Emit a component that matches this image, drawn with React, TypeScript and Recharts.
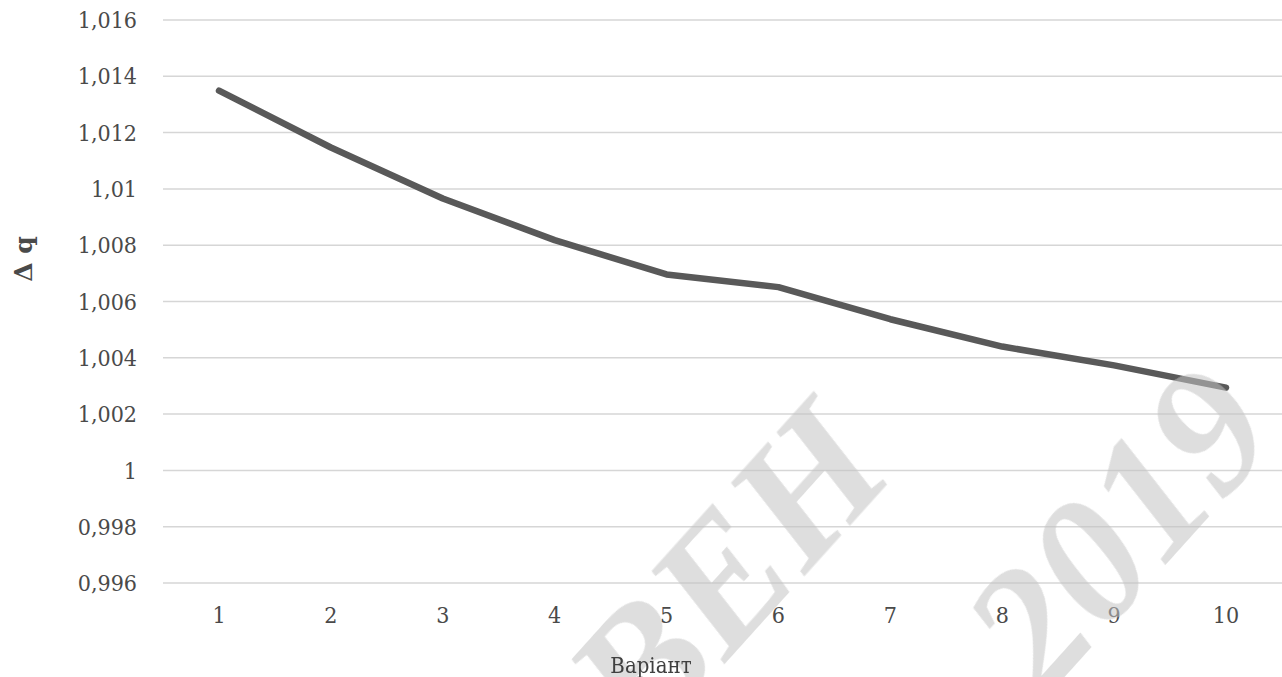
import React from 'react';
import { LineChart, Line, XAxis, YAxis, CartesianGrid } from 'recharts';

const categories: string[] = ['1', '2', '3', '4', '5', '6', '7', '8', '9', '10'];
const deltaQ: number[] = [1.01349, 1.01147, 1.00966, 1.00818, 1.00696, 1.00651, 1.00537, 1.0044, 1.00373, 1.00294];
const yTicks: number[] = [0.996, 0.998, 1.0, 1.002, 1.004, 1.006, 1.008, 1.01, 1.012, 1.014, 1.016];
const xTitle = 'Варіант';
const yTitle = 'Δ q';

const data = categories.map((c, i) => ({ name: c, value: deltaQ[i] }));

const fmt = (v: number) => {
  const s = parseFloat(v.toFixed(3)).toString();
  return s.replace('.', ',');
};

const TICK_FONT = '"DejaVu Serif Condensed", "DejaVu Serif", serif';

export default function App() {
  return (
    <div style={{ position: 'absolute', left: 0, top: 0, width: 1282, height: 677, background: '#fff' }}>
      <LineChart width={1282} height={677} data={data} margin={{ top: 20, right: 0, left: 0, bottom: 0 }}>
        <CartesianGrid vertical={false} stroke="#d6d6d6" strokeWidth={1.5} />
        <XAxis
          dataKey="name"
          height={94}
          axisLine={false}
          tickLine={false}
          tickSize={0}
          tickMargin={24}
          padding={{ left: 56, right: 56 }}
          tick={{ fill: '#4a4a4a', fontSize: 23, fontFamily: TICK_FONT }}
          interval={0}
        />
        <YAxis
          width={163}
          domain={[0.996, 1.016]}
          ticks={yTicks}
          allowDataOverflow
          axisLine={false}
          tickLine={false}
          tickSize={0}
          tickMargin={26}
          tickFormatter={fmt}
          tick={{ fill: '#4a4a4a', fontSize: 23, fontFamily: TICK_FONT }}
        />
        <Line
          type="linear"
          dataKey="value"
          stroke="#595959"
          strokeWidth={6.5}
          strokeLinecap="round"
          strokeLinejoin="round"
          dot={false}
          activeDot={false}
          isAnimationActive={false}
        />
      </LineChart>
      <svg
        width={1282}
        height={677}
        style={{ position: 'absolute', left: 0, top: 0, pointerEvents: 'none' }}
      >
        <g opacity={0.55} fill="#c4c4c4" fontFamily='"Liberation Serif", serif' fontWeight="bold" fontStyle="italic" fontSize={178}>
          <g transform="translate(1118,528) rotate(-48)">
            <text x={0} y={60} textAnchor="middle">2019</text>
          </g>
          <g transform="translate(806,484) rotate(-48)">
            <text x={70} y={60} textAnchor="end">ВЕН</text>
          </g>
        </g>
        <text
          x={651}
          y={673}
          textAnchor="middle"
          fill="#404040"
          fontSize={22}
          fontFamily='"DejaVu Serif Condensed", "DejaVu Serif", serif'
        >
          {xTitle}
        </text>
        <text
          transform="translate(32,259) rotate(-90)"
          textAnchor="middle"
          fill="#4a4a4a"
          fontSize={25}
          fontWeight="bold"
          fontFamily='"DejaVu Serif", serif'
        >
          {yTitle}
        </text>
      </svg>
    </div>
  );
}
